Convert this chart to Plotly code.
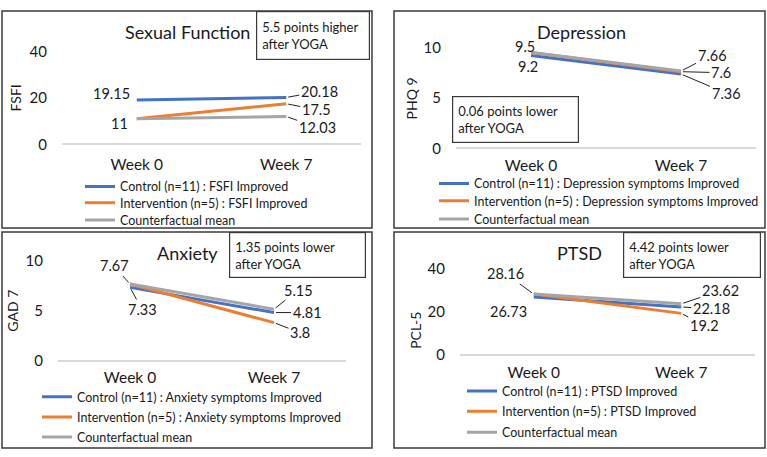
import plotly.graph_objects as go

W, H = 767, 457
FONT = "Lato"
TXT = "#1a1a1a"

weeks = ["Week 0", "Week 7"]

# Sexual Function (FSFI)
fsfi_control = [19.15, 20.18]
fsfi_interv = [11, 17.5]
fsfi_cf = [11, 12.03]
# Depression (PHQ 9)
phq_control = [9.2, 7.36]
phq_interv = [9.5, 7.6]
phq_cf = [9.5, 7.66]
# Anxiety (GAD 7)
gad_control = [7.33, 4.81]
gad_interv = [7.67, 3.8]
gad_cf = [7.67, 5.15]
# PTSD (PCL-5)
pcl_control = [26.73, 22.18]
pcl_interv = [28.16, 19.2]
pcl_cf = [28.16, 23.62]

titles = ["Sexual Function", "Depression", "Anxiety", "PTSD"]
ytitles = ["FSFI", "PHQ 9", "GAD 7", "PCL-5"]
ymax = [40, 10, 10, 40]
ydtick = [20, 5, 5, 20]
notes = ["5.5 points higher<br>after YOGA", "0.06 points lower<br>after YOGA",
         "1.35 points lower<br>after YOGA", "4.42 points lower<br>after YOGA"]
legend_names = [
    ["Control (n=11) : FSFI Improved", "Intervention (n=5) : FSFI Improved", "Counterfactual mean"],
    ["Control (n=11) : Depression symptoms Improved", "Intervention (n=5) : Depression symptoms Improved", "Counterfactual mean"],
    ["Control (n=11) : Anxiety symptoms Improved", "Intervention (n=5) : Anxiety symptoms Improved", "Counterfactual mean"],
    ["Control (n=11) : PTSD Improved", "Intervention (n=5) : PTSD Improved", "Counterfactual mean"],
]
series = [
    (fsfi_control, fsfi_interv, fsfi_cf),
    (phq_control, phq_interv, phq_cf),
    (gad_control, gad_interv, gad_cf),
    (pcl_control, pcl_interv, pcl_cf),
]
colors = ["#4472C4", "#ED7D31", "#A5A5A5"]

# ---- layout geometry (pixels) ----
panels = [(2, 1, 372, 227), (394, 1, 765, 227), (2, 231, 372, 456), (394, 231, 765, 456)]
plot_areas = [(62, 43, 361, 140), (456, 39, 756, 144), (58, 261, 346, 365), (460, 269, 755, 359)]
week_standoff = [9, 6, 6, 7]
title_pos = [(187, 23), (581, 23), (187, 253), (579, 253)]
ytitle_pos = [(15, 92), (411, 92), (13, 313), (416, 334)]
note_box = [(256, 1, 370, 50), (452, 90, 579, 137), (229, 231, 366, 277), (623, 231, 761, 277)]
legend_text_x = [120, 474, 77, 502]
legend_rows_y = [(184, 201, 219), (181, 199, 218), (403, 424, 445), (397, 418, 440)]

def px(x):
    return x / W

def py(y):
    return 1 - y / H

fig = go.Figure()
layout = {}
shapes = []
annotations = []

for i in range(4):
    n = "" if i == 0 else str(i + 1)
    xa, ya = "x" + n, "y" + n
    x0, y0, x1, y1 = plot_areas[i]
    layout["xaxis" + n] = dict(
        domain=[px(x0), px(x1)], anchor=ya, type="category",
        range=[-0.5, 1.5], showgrid=False, showline=False, ticks="",
        tickfont=dict(family=FONT, size=15.5, color=TXT),
        ticklabelstandoff=week_standoff[i], fixedrange=True,
    )
    layout["yaxis" + n] = dict(
        domain=[py(y1), py(y0)], anchor=xa, range=[0, ymax[i]], dtick=ydtick[i],
        showgrid=False, zeroline=True, zerolinecolor="#D9D9D9", zerolinewidth=1.5,
        showline=False, ticks="", tickfont=dict(family=FONT, size=15, color=TXT),
        ticklabelstandoff=14, fixedrange=True,
    )
    for k in range(3):
        idx = i * 3 + k
        lg = "legend" if idx == 0 else f"legend{idx + 1}"
        layout[lg] = dict(
            x=px(legend_text_x[i] - 40), y=py(legend_rows_y[i][k]),
            xanchor="left", yanchor="middle",
            font=dict(family=FONT, size=12.5, color=TXT), bgcolor="rgba(0,0,0,0)",
            itemwidth=30,
        )
        fig.add_trace(go.Scatter(
            x=weeks, y=series[i][k], mode="lines", name=legend_names[i][k],
            line=dict(color=colors[k], width=3), xaxis=xa, yaxis=ya,
            legend=lg, showlegend=True,
        ))
    # panel border
    bx0, by0, bx1, by1 = panels[i]
    shapes.append(dict(type="rect", xref="paper", yref="paper",
                       x0=px(bx0), x1=px(bx1), y0=py(by1), y1=py(by0),
                       line=dict(color="#3a3a3a", width=1.5), layer="below"))
    # title
    tx, ty = title_pos[i]
    annotations.append(dict(xref="paper", yref="paper", x=px(tx), y=py(ty), text=titles[i],
                            showarrow=False, xanchor="center", yanchor="middle",
                            font=dict(family=FONT, size=18, color=TXT)))
    # y title
    ax_, ay_ = ytitle_pos[i]
    annotations.append(dict(xref="paper", yref="paper", x=px(ax_), y=py(ay_), text=ytitles[i],
                            showarrow=False, textangle=-90, xanchor="center", yanchor="middle",
                            font=dict(family=FONT, size=14, color=TXT)))
    # note box
    nx0, ny0, nx1, ny1 = note_box[i]
    annotations.append(dict(xref="paper", yref="paper", x=px(nx0), y=py(ny0), text=notes[i],
                            showarrow=False, xanchor="left", yanchor="top", align="left",
                            width=nx1 - nx0 - 12, height=ny1 - ny0 - 12, borderpad=5,
                            bordercolor="#3a3a3a", borderwidth=1.2, bgcolor="white",
                            font=dict(family=FONT, size=13, color=TXT)))

# data labels: (panel, series index, week index, dx, dy, leader)
label_specs = [
    (0, 0, 0, -25, -6, False), (0, 1, 0, -17, 5, False),
    (0, 0, 1, 33, -6, True), (0, 1, 1, 30, 6, True), (0, 2, 1, 31, 11, True),
    (1, 1, 0, -6, -6, False), (1, 0, 0, -3, 11, False),
    (1, 2, 1, 31, -16, True), (1, 1, 1, 40, 1, True), (1, 0, 1, 45, 19, True),
    (2, 1, 0, -16, -18, True), (2, 0, 0, 12, 22, True),
    (2, 2, 1, 24, -19, True), (2, 0, 1, 33, 0, True), (2, 1, 1, 26, 10, True),
    (3, 1, 0, -28, -20, True), (3, 0, 0, -25, 14, False),
    (3, 2, 1, 39, -13, True), (3, 0, 1, 30, 2, True), (3, 1, 1, 23, 12, True),
]
for (i, k, w, dx, dy, leader) in label_specs:
    n = "" if i == 0 else str(i + 1)
    v = series[i][k][w]
    a = dict(xref="x" + n, yref="y" + n, x=weeks[w], y=v, text=f"{v:g}",
             font=dict(family=FONT, size=14.5, color=TXT))
    if leader:
        a.update(showarrow=True, arrowhead=0, arrowwidth=1, arrowcolor="#222",
                 ax=dx, ay=dy, standoff=2)
    else:
        a.update(showarrow=False, xshift=dx, yshift=-dy)
    annotations.append(a)

fig.update_layout(
    width=W, height=H, margin=dict(l=0, r=0, t=0, b=0),
    paper_bgcolor="white", plot_bgcolor="white",
    shapes=shapes, annotations=annotations, **layout,
)

fig.write_html("out.html")
